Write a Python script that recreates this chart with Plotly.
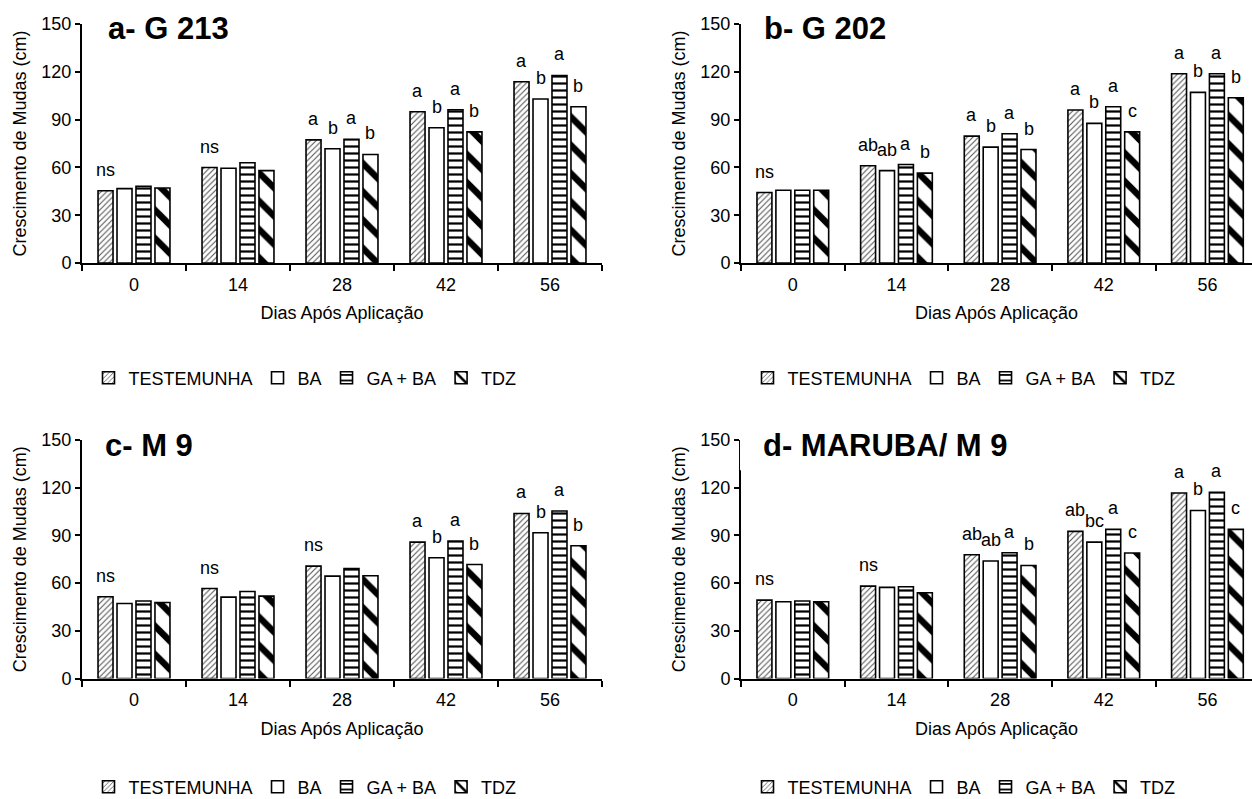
import plotly.graph_objects as go

# ---------------- data ----------------
days = ["0", "14", "28", "42", "56"]
treatments = ["TESTEMUNHA", "BA", "GA + BA", "TDZ"]
panel_titles = ["a- G 213", "b- G 202", "c- M 9", "d- MARUBA/ M 9"]

g213_test = [45.3, 59.9, 77.3, 94.9, 113.8]
g213_ba = [46.7, 59.5, 71.7, 84.9, 102.9]
g213_gaba = [48.2, 62.9, 77.7, 96.2, 117.7]
g213_tdz = [47.1, 58.0, 68.1, 82.3, 98.1]
g213_let_test = ["ns", "ns", "a", "a", "a"]
g213_let_ba = ["", "", "b", "b", "b"]
g213_let_gaba = ["", "", "a", "a", "a"]
g213_let_tdz = ["", "", "b", "b", "b"]

g202_test = [44.2, 61.0, 79.6, 96.0, 118.8]
g202_ba = [45.7, 58.0, 72.7, 87.6, 107.1]
g202_gaba = [45.7, 61.8, 81.1, 98.1, 118.8]
g202_tdz = [45.7, 56.4, 71.2, 82.3, 103.7]
g202_let_test = ["ns", "ab", "a", "a", "a"]
g202_let_ba = ["", "ab", "b", "b", "b"]
g202_let_gaba = ["", "a", "a", "a", "a"]
g202_let_tdz = ["", "b", "b", "c", "b"]

m9_test = [51.4, 56.6, 70.7, 85.8, 103.8]
m9_ba = [47.2, 51.2, 64.4, 75.9, 91.7]
m9_gaba = [48.7, 54.7, 69.2, 86.4, 105.3]
m9_tdz = [47.8, 51.8, 64.6, 71.7, 83.5]
m9_let_test = ["ns", "ns", "ns", "a", "a"]
m9_let_ba = ["", "", "", "b", "b"]
m9_let_gaba = ["", "", "", "a", "a"]
m9_let_tdz = ["", "", "", "b", "b"]

maruba_test = [49.3, 58.1, 77.8, 92.5, 116.7]
maruba_ba = [48.3, 57.3, 73.9, 85.8, 105.7]
maruba_gaba = [48.7, 57.7, 79.1, 93.8, 117.1]
maruba_tdz = [48.3, 53.9, 71.1, 78.9, 93.8]
maruba_let_test = ["ns", "ns", "ab", "ab", "a"]
maruba_let_ba = ["", "", "ab", "bc", "b"]
maruba_let_gaba = ["", "", "a", "a", "a"]
maruba_let_tdz = ["", "", "b", "c", "c"]

panels = [
    ([g213_test, g213_ba, g213_gaba, g213_tdz],
     [g213_let_test, g213_let_ba, g213_let_gaba, g213_let_tdz]),
    ([g202_test, g202_ba, g202_gaba, g202_tdz],
     [g202_let_test, g202_let_ba, g202_let_gaba, g202_let_tdz]),
    ([m9_test, m9_ba, m9_gaba, m9_tdz],
     [m9_let_test, m9_let_ba, m9_let_gaba, m9_let_tdz]),
    ([maruba_test, maruba_ba, maruba_gaba, maruba_tdz],
     [maruba_let_test, maruba_let_ba, maruba_let_gaba, maruba_let_tdz]),
]

# ---------------- style ----------------
FONT = "Liberation Sans, Arial, sans-serif"
FS = 18
W, H = 1252, 799
BARGAP = 0.27
BARGROUPGAP = 0.21

patterns = [
    dict(shape="/", size=4, solidity=0.25, fgcolor="#505050", bgcolor="white",
         fgopacity=1, fillmode="replace"),
    dict(shape="", bgcolor="white"),
    dict(shape="-", size=7, solidity=0.32, fgcolor="black", bgcolor="white",
         fgopacity=1, fillmode="replace"),
    dict(shape="\\", size=20, solidity=0.32, fgcolor="black", bgcolor="white",
         fgopacity=1, fillmode="replace"),
]

# pixel geometry -> paper domains
def px_x(a, b):
    return [a / W, b / W]

def px_y(top, bottom):
    return [1 - bottom / H, 1 - top / H]

x_dom = [px_x(82, 602), px_x(741, 1252), px_x(82, 602), px_x(741, 1252)]
x_rng = [[-0.5, 4.5], [-0.5, 4.43], [-0.5, 4.5], [-0.5, 4.43]]
y_dom = [px_y(24, 263), px_y(24, 263), px_y(440, 678.5), px_y(440, 678.5)]
legend_pos = [(305, 378), (964, 378), (305, 787), (964, 787)]
title_pos = [(106, 28), (762, 28), (103, 445), (761, 445)]

fig = go.Figure()
annotations = []
layout_axes = {}

for p, (series, letters) in enumerate(panels):
    k = "" if p == 0 else str(p + 1)
    xa, ya = "x" + k, "y" + k
    leg = "legend" + k
    for j, name in enumerate(treatments):
        fig.add_trace(go.Bar(
            x=days, y=series[j], name=name, xaxis=xa, yaxis=ya,
            legend=leg,
            marker=dict(color="white", line=dict(color="black", width=1.6),
                        pattern=patterns[j]),
            offsetgroup=str(j),
        ))
        slot = (1 - BARGAP) / len(treatments)
        off = -(1 - BARGAP) / 2 + slot * (j + 0.5)
        for i, lab in enumerate(letters[j]):
            if lab:
                annotations.append(dict(
                    x=i + off, y=series[j][i], xref=xa, yref=ya,
                    text=lab, showarrow=False, yanchor="bottom",
                    xanchor="center", yshift=9,
                    font=dict(family=FONT, size=FS, color="black"),
                ))
    tx, ty = title_pos[p]
    annotations.append(dict(
        x=tx / W, y=1 - ty / H, xref="paper", yref="paper",
        text="<b>%s</b>" % panel_titles[p], showarrow=False,
        xanchor="left", yanchor="middle",
        font=dict(family=FONT, size=31, color="black"),
    ))
    layout_axes["xaxis" + k] = dict(
        domain=x_dom[p], anchor=ya, type="category", range=x_rng[p],
        showline=True, linecolor="black", linewidth=2,
        ticks="outside", ticklen=6, tickwidth=2, tickcolor="black",
        tickson="boundaries", showgrid=False, zeroline=False,
        ticklabelstandoff=4,
        tickfont=dict(family=FONT, size=FS, color="black"),
        title=dict(text="Dias Após Aplicação", standoff=13,
                   font=dict(family=FONT, size=FS, color="black")),
        automargin=False, fixedrange=True,
    )
    layout_axes["yaxis" + k] = dict(
        domain=y_dom[p], anchor=xa, range=[0, 150], dtick=30, tick0=0,
        showline=True, linecolor="black", linewidth=2,
        ticks="outside", ticklen=5, tickwidth=2, tickcolor="black",
        showgrid=False, zeroline=False,
        tickfont=dict(family=FONT, size=FS, color="black"),
        title=dict(text="Crescimento de Mudas (cm)", standoff=10,
                   font=dict(family=FONT, size=FS, color="black")),
        automargin=False, fixedrange=True,
    )
    lx, ly = legend_pos[p]
    layout_axes[leg] = dict(
        orientation="h", x=lx / W, y=1 - ly / H, xanchor="center",
        yanchor="middle", itemwidth=30, bgcolor="rgba(0,0,0,0)",
        font=dict(family=FONT, size=FS, color="black"),
        traceorder="normal", itemclick=False, itemdoubleclick=False,
    )

# white box behind panel d title hides the top of its y axis line
shapes = [dict(type="rect", xref="x4 domain", yref="y4",
               x0=-0.002, x1=0.4, y0=131, y1=152,
               fillcolor="white", line=dict(width=0), layer="above")]

fig.update_layout(
    width=W, height=H,
    margin=dict(l=0, r=0, t=0, b=0, autoexpand=False),
    paper_bgcolor="white", plot_bgcolor="white",
    barmode="group", bargap=BARGAP, bargroupgap=BARGROUPGAP,
    annotations=annotations, shapes=shapes, showlegend=True,
    font=dict(family=FONT, size=FS, color="black"),
    **layout_axes,
)

fig.write_html("out.html", config={"displayModeBar": False})
